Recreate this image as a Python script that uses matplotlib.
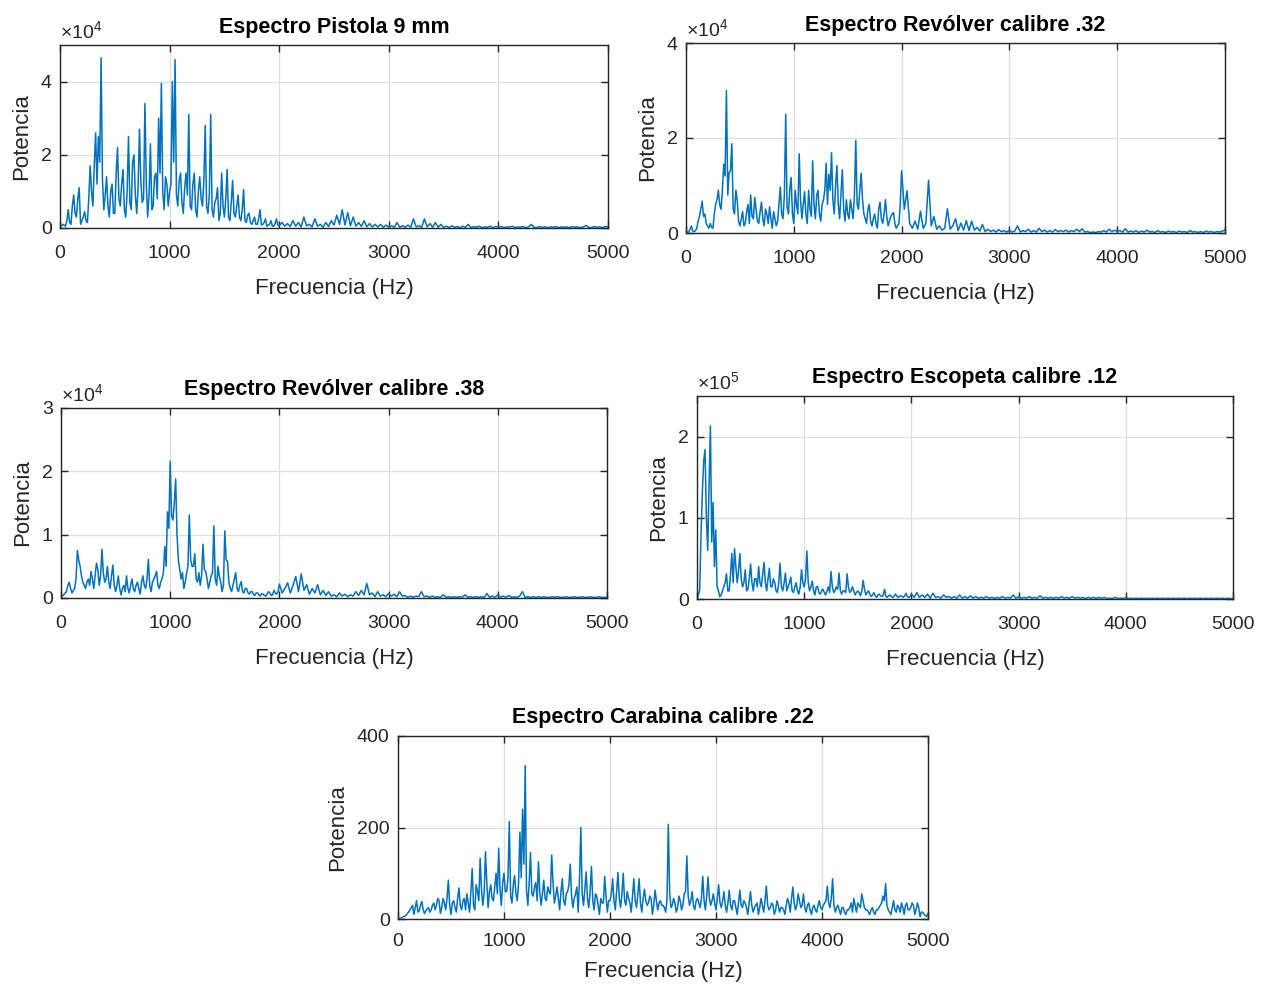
import numpy as np
import matplotlib
matplotlib.use('Agg')
import matplotlib.pyplot as plt
from matplotlib.ticker import FuncFormatter

# Spectra, one value every 25 Hz from 0 to 5000 Hz.
# Each row below covers 500 Hz (20 values), last value is 5000 Hz.
step_hz = 25
freq = np.arange(0, 5000 + step_hz, step_hz)

# Pistola 9 mm, values in thousands
pistola = [
    0.3, 1.0, 0.5, 5.0, 1.0, 9.0, 3.0, 11.0, 2.0, 4.5, 1.5, 17.0, 6.0, 26.0, 25.0, 46.5, 5.0, 14.0, 3.0, 12.0,
    4.0, 22.0, 6.0, 16.0, 3.0, 25.0, 5.0, 20.0, 4.0, 27.0, 7.0, 34.0, 3.0, 23.0, 6.0, 15.0, 30.0, 39.5, 5.0, 12.0,
    10.0, 40.0, 46.0, 6.0, 15.0, 4.0, 15.0, 31.0, 5.0, 15.0, 3.0, 14.0, 6.0, 28.0, 4.0, 31.0, 3.0, 8.0, 2.0, 15.0,
    3.0, 16.0, 2.0, 13.0, 3.0, 9.0, 2.0, 10.5, 1.5, 4.0, 1.0, 3.0, 1.0, 5.0, 1.0, 2.5, 0.8, 2.0, 0.5, 2.5,
    0.6, 1.5, 0.5, 1.2, 0.4, 2.0, 0.5, 1.5, 0.3, 3.0, 0.6, 1.0, 0.3, 2.5, 0.5, 1.0, 0.2, 1.5, 0.4, 2.0,
    0.8, 3.5, 1.0, 5.0, 0.8, 4.2, 0.6, 3.0, 0.5, 1.5, 0.4, 2.0, 0.3, 1.2, 0.3, 1.0, 0.3, 1.0, 0.2, 0.8,
    0.2, 0.6, 0.2, 1.5, 0.2, 0.6, 0.2, 0.8, 0.2, 2.5, 0.3, 0.6, 0.2, 2.5, 0.3, 1.2, 0.2, 1.5, 0.2, 1.0,
    0.2, 0.5, 0.1, 0.6, 0.2, 0.4, 0.1, 0.5, 0.2, 1.0, 0.1, 0.4, 0.2, 0.5, 0.1, 0.3, 0.2, 0.5, 0.1, 0.4,
    0.2, 0.4, 0.1, 0.3, 0.2, 0.5, 0.1, 0.3, 0.2, 0.4, 0.1, 0.3, 1.0, 0.2, 0.1, 0.4, 0.2, 0.3, 0.1, 0.3,
    0.2, 0.4, 0.1, 0.3, 0.2, 0.3, 0.1, 0.4, 0.2, 0.3, 0.1, 0.3, 0.7, 0.2, 0.1, 0.4, 0.2, 0.3, 0.1, 0.4,
    0.3,
]
# extra points half way between the ones above (12.5, 37.5, ... Hz), dense part only
pistola_mid = [
    0.5, 0.8, 2.0, 1.5, 6.0, 4.0, 8.0, 1.0, 3.0, 2.0, 8.0, 10.0, 17.0, 12.0, 18.0, 13.0, 9.0, 6.0, 10.0, 4.0,
    15.0, 8.0, 12.0, 5.0, 10.0, 7.0, 18.0, 9.0, 11.0, 13.0, 8.0, 12.0, 9.0, 5.0, 14.0, 8.0, 15.0, 10.0, 14.0, 6.0,
    12.0, 18.0, 9.0, 13.0, 7.0, 11.0, 9.0, 6.0, 12.0, 5.0, 10.0, 8.0, 13.0, 6.0, 9.0, 5.0, 7.0, 11.0, 4.0, 6.0,
    8.0, 3.0, 7.0, 4.0, 6.0, 3.0, 5.0, 2.0, 3.5, 1.5, 2.0, 1.0, 2.5, 0.8, 1.5, 0.5, 1.0, 0.5, 1.2, 0.8,
]

# Revolver calibre .32, values in thousands
revolver32 = [
    0.3, 0.2, 1.5, 0.3, 1.0, 3.5, 6.7, 4.0, 1.5, 2.0, 1.0, 6.0, 9.0, 5.0, 14.5, 30.0, 12.8, 18.8, 4.0, 7.0,
    1.5, 4.5, 2.0, 6.0, 8.0, 3.0, 5.0, 2.0, 6.5, 1.5, 4.0, 5.5, 1.0, 3.0, 2.5, 9.7, 3.0, 25.0, 4.0, 11.7,
    2.0, 6.0, 16.7, 3.0, 8.7, 2.0, 5.0, 15.2, 3.0, 9.0, 2.5, 7.0, 14.7, 12.4, 16.9, 4.0, 14.2, 3.0, 13.3, 2.5,
    4.0, 7.0, 3.0, 19.5, 5.0, 12.6, 4.0, 2.0, 6.0, 1.5, 4.0, 1.0, 6.5, 2.0, 7.0, 1.5, 3.5, 4.3, 1.0, 2.0,
    13.1, 5.0, 8.9, 2.0, 1.0, 2.5, 0.8, 4.6, 1.0, 2.0, 11.1, 1.5, 3.5, 0.8, 1.5, 0.6, 1.0, 5.1, 0.8, 1.5,
    3.0, 0.5, 2.1, 0.6, 2.6, 0.5, 2.5, 0.6, 1.2, 0.4, 1.8, 0.3, 0.8, 0.3, 0.6, 0.2, 0.7, 0.3, 0.5, 0.2,
    0.6, 0.2, 0.4, 1.5, 0.2, 0.5, 0.3, 0.8, 0.2, 0.5, 0.2, 1.0, 0.3, 0.6, 0.2, 0.5, 0.2, 0.7, 0.3, 0.5,
    0.3, 0.6, 0.2, 0.5, 0.3, 0.8, 0.3, 0.9, 0.2, 0.3, 0.1, 0.2, 0.1, 0.3, 0.2, 0.5, 0.2, 0.8, 0.3, 0.6,
    0.3, 0.5, 0.2, 0.9, 0.2, 0.4, 0.2, 0.5, 0.1, 0.4, 0.2, 0.6, 0.2, 0.3, 0.1, 0.5, 0.2, 0.3, 0.1, 0.4,
    0.2, 0.3, 0.1, 0.4, 0.2, 0.3, 0.1, 0.5, 0.2, 0.3, 0.1, 0.3, 0.1, 0.4, 0.2, 0.3, 0.1, 0.3, 0.2, 0.4,
    0.6,
]
revolver32_mid = [
    0.2, 0.8, 0.4, 0.5, 2.5, 5.0, 3.5, 2.0, 1.0, 1.2, 4.0, 7.0, 6.0, 9.0, 12.0, 8.0, 13.0, 5.0, 9.0, 2.5,
    3.0, 1.5, 4.5, 2.0, 3.5, 7.5, 2.5, 4.5, 3.0, 5.0, 2.0, 3.0, 4.5, 1.5, 6.0, 4.0, 8.0, 5.5, 9.0, 4.0,
    9.0, 4.0, 7.0, 6.0, 4.0, 9.0, 3.5, 6.0, 8.0, 4.0, 6.0, 9.0, 6.0, 9.0, 7.0, 10.0, 6.0, 8.0, 5.0, 7.0,
    3.0, 5.0, 8.0, 6.0, 9.0, 7.0, 3.0, 5.0, 2.5, 3.0, 2.0, 5.0, 3.0, 4.0, 3.5, 2.5, 4.0, 2.0, 1.5, 6.0,
]

# Revolver calibre .38, values in thousands
revolver38 = [
    0.2, 0.5, 1.0, 2.5, 0.8, 1.5, 7.5, 5.0, 2.5, 1.5, 3.0, 4.2, 1.5, 5.5, 2.0, 7.7, 2.5, 5.0, 1.5, 5.2,
    1.0, 3.5, 0.5, 2.0, 3.5, 0.8, 3.0, 1.0, 2.5, 0.6, 3.5, 1.5, 6.1, 1.0, 3.0, 4.2, 1.5, 3.0, 8.1, 13.6,
    21.6, 12.3, 18.8, 6.0, 3.0, 1.5, 3.9, 13.1, 5.0, 7.0, 2.5, 2.0, 8.5, 4.2, 1.5, 3.5, 11.4, 2.0, 3.4, 1.0,
    10.6, 5.8, 1.5, 2.0, 4.0, 1.0, 2.6, 0.8, 1.5, 0.6, 1.0, 0.4, 0.8, 0.3, 0.6, 0.3, 1.0, 0.4, 1.2, 0.6,
    2.2, 0.8, 1.5, 2.4, 0.8, 2.0, 3.4, 1.0, 3.8, 1.2, 2.1, 0.6, 1.5, 0.8, 2.1, 0.5, 1.2, 0.4, 1.0, 0.3,
    0.5, 0.2, 0.8, 0.3, 0.6, 0.2, 0.5, 0.3, 1.0, 0.4, 1.2, 0.5, 2.3, 0.5, 0.8, 0.2, 1.0, 0.3, 0.5, 0.2,
    0.7, 0.3, 0.6, 0.2, 1.0, 0.3, 0.4, 0.1, 0.3, 0.1, 0.3, 0.2, 1.0, 0.2, 0.3, 0.1, 0.3, 0.1, 0.2, 0.1,
    0.5, 0.1, 0.2, 0.1, 0.2, 0.1, 0.2, 0.1, 0.5, 0.1, 0.2, 0.1, 0.2, 0.1, 0.2, 0.1, 0.7, 0.1, 0.3, 0.1,
    0.5, 0.1, 0.3, 0.1, 0.4, 0.1, 0.2, 0.1, 0.3, 1.0, 0.1, 0.2, 0.1, 0.2, 0.1, 0.2, 0.1, 0.2, 0.1, 0.1,
    0.2, 0.1, 0.2, 0.1, 0.1, 0.2, 0.1, 0.1, 0.2, 0.1, 0.1, 0.2, 0.1, 0.1, 0.2, 0.1, 0.1, 0.2, 0.1, 0.1,
    0.1,
]
revolver38_mid = [
    0.3, 0.8, 2.0, 1.5, 1.2, 3.0, 6.0, 3.5, 2.0, 2.5, 2.0, 3.0, 3.5, 4.5, 3.5, 4.0, 3.0, 2.5, 3.5, 2.0,
    2.0, 1.5, 1.5, 1.0, 1.5, 2.0, 1.5, 2.0, 1.5, 2.5, 2.0, 3.0, 2.0, 2.5, 3.5, 2.0, 2.5, 4.0, 5.0, 11.0,
    13.0, 15.0, 10.0, 4.5, 4.0, 2.5, 5.0, 6.0, 5.0, 3.0, 4.0, 3.5, 4.5, 3.0, 2.5, 4.0, 3.0, 5.0, 2.5, 2.0,
    6.0, 2.5, 1.0, 3.0, 1.5, 2.0, 1.0, 1.5, 0.8, 1.0, 0.6, 0.8, 0.5, 0.7, 0.4, 0.6, 0.8, 0.5, 0.8, 1.0,
]

# Escopeta calibre .12, values in ten-thousands
escopeta = [
    0.0, 1.1, 13.2, 18.4, 6.0, 21.3, 11.9, 8.5, 1.0, 0.5, 1.5, 3.1, 1.0, 5.6, 6.2, 2.0, 5.6, 1.5, 3.6, 1.2,
    4.3, 1.0, 2.5, 4.0, 1.5, 4.5, 1.0, 3.8, 1.5, 2.0, 0.8, 4.4, 1.0, 3.2, 1.5, 2.7, 0.8, 2.0, 0.6, 3.6,
    1.5, 5.9, 1.0, 2.2, 0.5, 1.5, 0.6, 1.2, 0.5, 1.5, 3.4, 0.8, 1.5, 3.2, 0.6, 1.0, 3.1, 0.8, 1.5, 0.5,
    1.0, 0.4, 2.3, 0.5, 1.0, 0.3, 0.8, 0.2, 0.6, 0.3, 1.2, 0.2, 0.5, 0.2, 0.6, 0.2, 0.4, 0.2, 0.7, 0.2,
    0.6, 0.2, 0.8, 0.2, 0.5, 0.2, 0.6, 0.1, 0.7, 0.2, 0.3, 0.1, 0.5, 0.2, 0.3, 0.1, 0.3, 0.1, 0.5, 0.1,
    0.3, 0.1, 0.4, 0.1, 0.3, 0.1, 0.2, 0.1, 0.3, 0.1, 0.2, 0.1, 0.2, 0.1, 0.3, 0.1, 0.2, 0.1, 0.5, 0.1,
    0.3, 0.1, 0.2, 0.1, 0.3, 0.1, 0.2, 0.1, 0.4, 0.1, 0.2, 0.1, 0.2, 0.1, 0.2, 0.1, 0.3, 0.1, 0.2, 0.1,
    0.3, 0.1, 0.2, 0.1, 0.2, 0.05, 0.2, 0.1, 0.2, 0.05, 0.2, 0.1, 0.2, 0.05, 0.1, 0.05, 0.2, 0.05, 0.1, 0.05,
    0.2, 0.05, 0.1, 0.05, 0.1, 0.05, 0.1, 0.05, 0.1, 0.05, 0.1, 0.05, 0.1, 0.05, 0.1, 0.05, 0.1, 0.05, 0.1, 0.05,
    0.1, 0.05, 0.1, 0.05, 0.1, 0.05, 0.1, 0.05, 0.1, 0.05, 0.1, 0.05, 0.1, 0.05, 0.1, 0.05, 0.1, 0.05, 0.1, 0.05,
    0.05,
]
escopeta_mid = [
    0.5, 8.0, 17.0, 10.0, 14.0, 7.0, 4.0, 1.5, 0.3, 1.0, 2.0, 1.0, 3.0, 2.0, 4.0, 3.5, 2.5, 2.0, 1.0, 2.5,
    2.0, 2.5, 1.5, 2.0, 3.0, 2.0, 2.5, 1.5, 2.5, 1.0, 2.0, 1.5, 2.0, 1.0, 2.0, 1.0, 1.5, 1.0, 1.5, 2.0,
    2.5, 2.0, 1.5, 1.0, 1.5, 0.8, 1.0, 0.8, 1.0, 0.8, 1.5, 1.0, 1.2, 1.0, 1.0, 0.8, 1.5, 1.0, 1.0, 0.8,
    0.8, 1.0, 1.2, 0.8, 0.6, 0.5, 0.4, 0.5, 0.4, 0.5, 0.3, 0.4, 0.3, 0.3, 0.4, 0.3, 0.3, 0.4, 0.3, 0.3,
]

# Carabina calibre .22, raw values
carabina = [
    0, 2, 5, 8, 15, 25, 10, 40, 18, 38, 12, 22, 15, 30, 20, 45, 12, 45, 20, 85,
    10, 40, 15, 68, 20, 45, 55, 15, 110, 20, 60, 133, 30, 147, 25, 75, 40, 100, 155, 30,
    100, 60, 213, 35, 95, 40, 190, 240, 335, 30, 145, 50, 80, 125, 30, 85, 40, 60, 140, 35,
    70, 20, 88, 30, 60, 120, 25, 55, 15, 200, 30, 103, 25, 115, 20, 50, 10, 35, 93, 15,
    40, 88, 20, 102, 25, 100, 30, 45, 15, 88, 25, 88, 15, 65, 30, 50, 10, 63, 20, 40,
    30, 15, 207, 25, 45, 15, 50, 20, 55, 138, 30, 60, 20, 45, 25, 93, 20, 92, 30, 55,
    20, 75, 25, 60, 15, 63, 20, 40, 10, 63, 25, 35, 10, 60, 15, 30, 10, 45, 15, 72,
    20, 35, 10, 40, 15, 25, 10, 45, 15, 70, 20, 55, 25, 55, 15, 35, 10, 30, 15, 40,
    20, 35, 72, 25, 88, 15, 30, 10, 25, 10, 20, 35, 45, 15, 30, 55, 25, 20, 10, 25,
    10, 20, 30, 50, 77, 20, 10, 40, 15, 25, 35, 10, 35, 20, 35, 10, 35, 5, 15, 8,
    12,
]
carabina_mid = [
    1, 3, 6, 12, 20, 30, 25, 15, 30, 20, 18, 25, 20, 35, 30, 40, 25, 35, 45, 30,
    35, 25, 45, 30, 40, 20, 35, 60, 30, 75, 40, 65, 55, 80, 60, 45, 70, 55, 65, 80,
    60, 90, 50, 75, 55, 80, 90, 120, 60, 80, 55, 70, 40, 60, 55, 45, 70, 55, 80, 50,
    45, 60, 40, 55, 75, 50, 45, 70, 90, 55, 65, 45, 60, 40, 55, 30, 45, 35, 50, 40,
    55, 40, 60, 45, 55, 40, 60, 35, 50, 40, 55, 35, 45, 40, 35, 45, 30, 40, 35, 30,
    25, 40, 60, 30, 35, 25, 40, 30, 60, 50, 40, 30, 40, 35, 45, 40, 50, 45, 40, 35,
    45, 35, 40, 30, 35, 30, 40, 25, 35, 30, 40, 25, 35, 30, 25, 35, 25, 30, 40, 30,
    25, 30, 20, 30, 25, 20, 30, 35, 45, 35, 30, 40, 30, 25, 30, 20, 25, 20, 30, 25,
    30, 40, 35, 45, 30, 25, 20, 25, 15, 20, 25, 15, 30, 35, 25, 40, 20, 15, 20, 15,
    20, 25, 35, 40, 30, 15, 25, 20, 30, 15, 25, 30, 20, 25, 30, 20, 25, 15, 10, 5,
]

titles = ['Espectro Pistola 9 mm', 'Espectro Revólver calibre .32', 'Espectro Revólver calibre .38',
          'Espectro Escopeta calibre .12', 'Espectro Carabina calibre .22']
coarse = [pistola, revolver32, revolver38, escopeta, carabina]
fine = [pistola_mid, revolver32_mid, revolver38_mid, escopeta_mid, carabina_mid]
units = [1e3, 1e3, 1e3, 1e4, 1]
y_max = [5e4, 4e4, 3e4, 2.5e5, 400]
y_ticks = [[0, 2e4, 4e4], [0, 2e4, 4e4], [0, 1e4, 2e4, 3e4], [0, 1e5, 2e5], [0, 200, 400]]
y_exp = [4, 4, 4, 5, 0]
x_ticks = [0, 1000, 2000, 3000, 4000, 5000]

# axes boxes in pixels: left, top, right, bottom
boxes = [(60, 45, 608, 228), (686, 43, 1225, 233), (61, 408, 607, 598),
         (697, 396, 1233, 599), (398, 736, 928, 919)]
xlabel_pad = [12, 12, 12, 12, 8]

W, H = 1266, 985
plt.rcParams['font.family'] = ['Liberation Sans', 'DejaVu Sans']
plt.rcParams['mathtext.fontset'] = 'custom'
plt.rcParams['mathtext.rm'] = 'Liberation Sans'
fig = plt.figure(figsize=(W / 100, H / 100), dpi=100)

dark = '#262626'
for i in range(5):
    # merge the 25 Hz points with the in-between points
    mid_freq = np.arange(len(fine[i])) * step_hz + step_hz / 2
    f_all = np.concatenate([freq, mid_freq])
    p_all = np.concatenate([coarse[i], fine[i]]) * units[i]
    order = np.argsort(f_all)

    l, t, r, b = boxes[i]
    ax = fig.add_axes([l / W, 1 - b / H, (r - l) / W, (b - t) / H])
    ax.plot(f_all[order], p_all[order], color='#0072BD', linewidth=1.1)
    ax.set_xlim(0, 5000)
    ax.set_ylim(0, y_max[i])
    ax.set_xticks(x_ticks)
    ax.set_yticks(y_ticks[i])
    scale = 10 ** y_exp[i]
    ax.yaxis.set_major_formatter(FuncFormatter(lambda v, p, s=scale: '%g' % (v / s)))
    ax.grid(True, color='#dfdfdf', linewidth=0.9)
    ax.set_axisbelow(True)
    ax.tick_params(direction='in', top=True, right=True, length=5, width=1.0,
                   colors=dark, labelsize=14)
    ax.tick_params(axis='x', pad=12 if i < 4 else 10)
    ax.tick_params(axis='y', pad=6)
    for sp in ax.spines.values():
        sp.set_color(dark)
        sp.set_linewidth(1.0)
    ax.set_title(titles[i], fontsize=15.5, fontweight='bold', color='black', pad=9)
    ax.set_xlabel('Frecuencia (Hz)', fontsize=16, color=dark, labelpad=xlabel_pad[i])
    ax.set_ylabel('Potencia', fontsize=16, color=dark, labelpad=6)
    if y_exp[i]:
        ax.text(0.0, 1.01, r'$\times10^{%d}$' % y_exp[i], transform=ax.transAxes,
                ha='left', va='bottom', fontsize=14, color=dark)

fig.savefig('out.png', dpi=100)
